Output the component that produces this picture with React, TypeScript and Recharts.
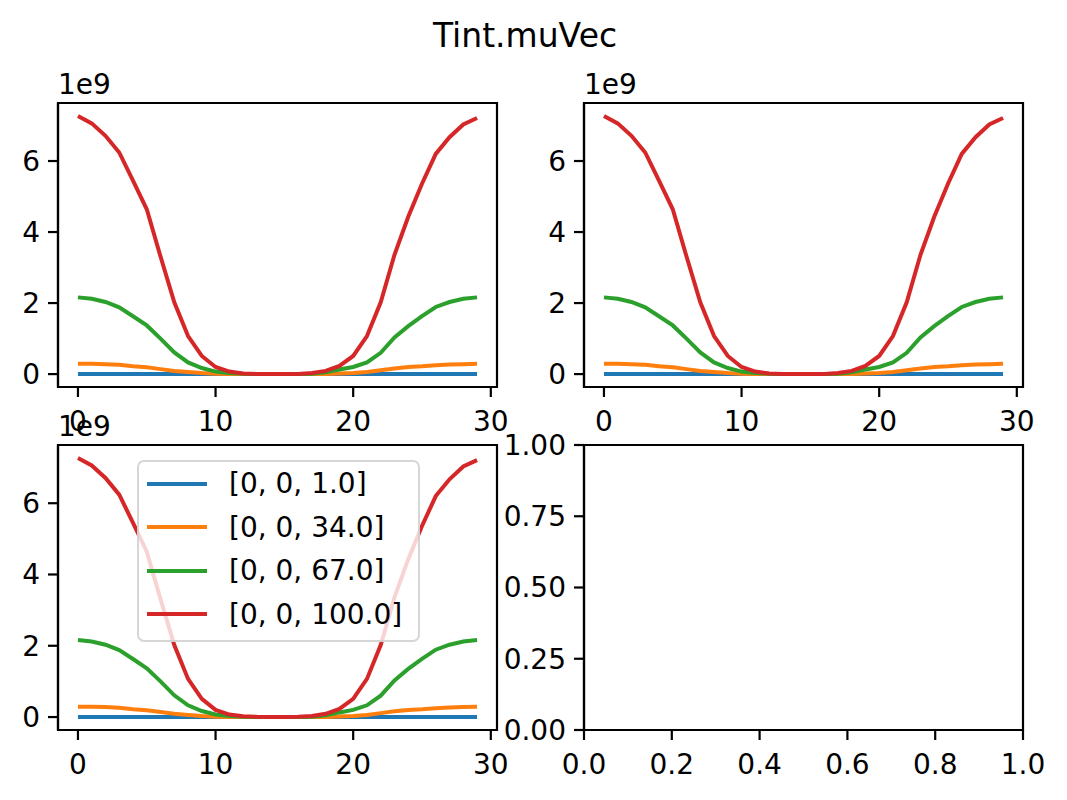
import { LineChart, Line, XAxis, YAxis, Legend, ReferenceArea } from "recharts";

// sample index along the line (0..29)
const xIndex = [
  0, 1, 2, 3, 4, 5, 6, 7, 8, 9, 10, 11, 12, 13, 14,
  15, 16, 17, 18, 19, 20, 21, 22, 23, 24, 25, 26, 27, 28, 29,
];

// Tint.muVec values, in units of 1e9
const mu1 = [
  0.003, 0.003, 0.003, 0.003, 0.002, 0.002, 0.001, 0.001, 0.0005, 0.0002, 0, 0, 0, 0, 0,
  0, 0, 0, 0, 0, 0.0002, 0.0005, 0.001, 0.001, 0.002, 0.002, 0.003, 0.003, 0.003, 0.003,
];
const mu34 = [
  0.29, 0.29, 0.28, 0.26, 0.22, 0.19, 0.14, 0.09, 0.06, 0.03, 0.01, 0.004, 0.001, 0, 0,
  0, 0, 0.001, 0.004, 0.015, 0.03, 0.06, 0.11, 0.16, 0.2, 0.22, 0.25, 0.27, 0.28, 0.29,
];
const mu67 = [
  2.16, 2.12, 2.03, 1.88, 1.63, 1.37, 1.0, 0.61, 0.33, 0.17, 0.07, 0.03, 0.01, 0.003, 0.001,
  0.001, 0.003, 0.01, 0.05, 0.13, 0.2, 0.33, 0.6, 1.03, 1.35, 1.63, 1.89, 2.03, 2.12, 2.16,
];
const mu100 = [
  7.27, 7.06, 6.71, 6.24, 5.45, 4.64, 3.31, 2.02, 1.07, 0.51, 0.2, 0.07, 0.02, 0.005, 0.002,
  0.002, 0.005, 0.03, 0.09, 0.23, 0.51, 1.07, 2.02, 3.36, 4.43, 5.36, 6.2, 6.67, 7.03, 7.21,
];

const seriesNames = ["[0, 0, 1.0]", "[0, 0, 34.0]", "[0, 0, 67.0]", "[0, 0, 100.0]"];
const seriesColors = ["#1f77b4", "#ff7f0e", "#2ca02c", "#d62728"];
const seriesKeys = ["s0", "s1", "s2", "s3"];

const xTicks = [0, 10, 20, 30];
const yTicks = [0, 2, 4, 6];
const emptyXTicks = [0, 0.2, 0.4, 0.6, 0.8, 1.0];
const emptyYTicks = [0, 0.25, 0.5, 0.75, 1.0];

const chartData = xIndex.map((x, i) => ({
  x,
  s0: mu1[i],
  s1: mu34[i],
  s2: mu67[i],
  s3: mu100[i],
}));

// matplotlib-style 5% margins
const xPad = (xIndex[xIndex.length - 1] - xIndex[0]) * 0.05;
const xDomain = [xIndex[0] - xPad, xIndex[xIndex.length - 1] + xPad];
const yMax = Math.max(...mu1, ...mu34, ...mu67, ...mu100);
const yPad = yMax * 0.05;
const yDomain = [-yPad, yMax + yPad];

const FONT = "'DejaVu Sans', sans-serif";
const MT = 24;
const MR = 40;
const XH = 50;

type Box = { x: number; y: number; w: number; h: number };

const axisLine = { stroke: "#000", strokeWidth: 2.2 };
const tickStyle = { fontSize: 28, fill: "#000", fontFamily: FONT };

function LegendBox() {
  return (
    <div
      style={{
        boxSizing: "border-box",
        width: 283,
        height: 182,
        background: "rgba(255,255,255,0.8)",
        border: "2px solid rgba(204,204,204,0.8)",
        borderRadius: 7,
        padding: "0 0 0 8px",
        fontFamily: FONT,
        fontSize: 28,
        color: "#000",
      }}
    >
      {seriesNames.map((name, i) => (
        <div key={name} style={{ display: "flex", alignItems: "center", height: 43.5 }}>
          <span style={{ display: "inline-block", width: 60, height: 4, background: seriesColors[i] }} />
          <span style={{ marginLeft: 22, whiteSpace: "nowrap" }}>{name}</span>
        </div>
      ))}
    </div>
  );
}

function Panel({ box, empty, legendAt }: { box: Box; empty?: boolean; legendAt?: { x: number; y: number } }) {
  const YW = empty ? 100 : 60;
  const left = box.x - YW;
  const top = box.y - MT;
  const xd = empty ? [0, 1] : xDomain;
  const yd = empty ? [0, 1] : yDomain;
  return (
    <div style={{ position: "absolute", left, top }}>
      <LineChart
        width={YW + box.w + MR}
        height={MT + box.h + XH}
        data={empty ? [] : chartData}
        margin={{ top: MT, right: MR, left: 0, bottom: 0 }}
      >
        <XAxis
          dataKey="x"
          type="number"
          domain={xd}
          allowDataOverflow
          ticks={empty ? emptyXTicks : xTicks}
          tickFormatter={(v: number) => (empty ? v.toFixed(1) : String(v))}
          height={XH}
          tick={tickStyle}
          tickSize={10}
          tickMargin={14}
          tickLine={axisLine}
          axisLine={axisLine}
          interval={0}
        />
        <YAxis
          type="number"
          domain={yd}
          allowDataOverflow
          ticks={empty ? emptyYTicks : yTicks}
          tickFormatter={(v: number) => (empty ? v.toFixed(2) : String(v))}
          width={YW}
          tick={tickStyle}
          tickSize={10}
          tickMargin={8}
          tickLine={axisLine}
          axisLine={axisLine}
          interval={0}
        />
        {/* full frame, like matplotlib spines */}
        <ReferenceArea
          x1={xd[0]}
          x2={xd[1]}
          y1={yd[0]}
          y2={yd[1]}
          fill="none"
          stroke="#000"
          strokeWidth={2.2}
          ifOverflow="visible"
        />
        {!empty &&
          seriesKeys.map((k, i) => (
            <Line
              key={k}
              dataKey={k}
              name={seriesNames[i]}
              stroke={seriesColors[i]}
              strokeWidth={4}
              dot={false}
              activeDot={false}
              isAnimationActive={false}
            />
          ))}
        {legendAt && (
          <Legend
            layout="vertical"
            align="center"
            verticalAlign="middle"
            content={() => <LegendBox />}
            wrapperStyle={{ left: legendAt.x - left, top: legendAt.y - top, width: "auto" }}
          />
        )}
      </LineChart>
    </div>
  );
}

function Offset({ x, y }: { x: number; y: number }) {
  return (
    <div style={{ position: "absolute", left: x, top: y, fontFamily: FONT, fontSize: 28, lineHeight: 1 }}>
      1e9
    </div>
  );
}

export default function App() {
  return (
    <div
      style={{
        position: "absolute",
        left: 0,
        top: 0,
        width: 1067,
        height: 800,
        background: "#fff",
        overflow: "hidden",
      }}
    >
      <div
        style={{
          position: "absolute",
          left: 325,
          top: 19,
          width: 400,
          textAlign: "center",
          fontFamily: FONT,
          fontSize: 33,
          lineHeight: 1,
        }}
      >
        Tint.muVec
      </div>
      <Panel box={{ x: 58, y: 103, w: 439, h: 284 }} />
      <Panel box={{ x: 584, y: 103, w: 439, h: 284 }} />
      <Panel box={{ x: 58, y: 445, w: 439, h: 285 }} legendAt={{ x: 137, y: 460 }} />
      <Panel box={{ x: 584, y: 445, w: 439, h: 285 }} empty />
      <Offset x={58} y={71} />
      <Offset x={584} y={71} />
      <Offset x={58} y={413} />
    </div>
  );
}
